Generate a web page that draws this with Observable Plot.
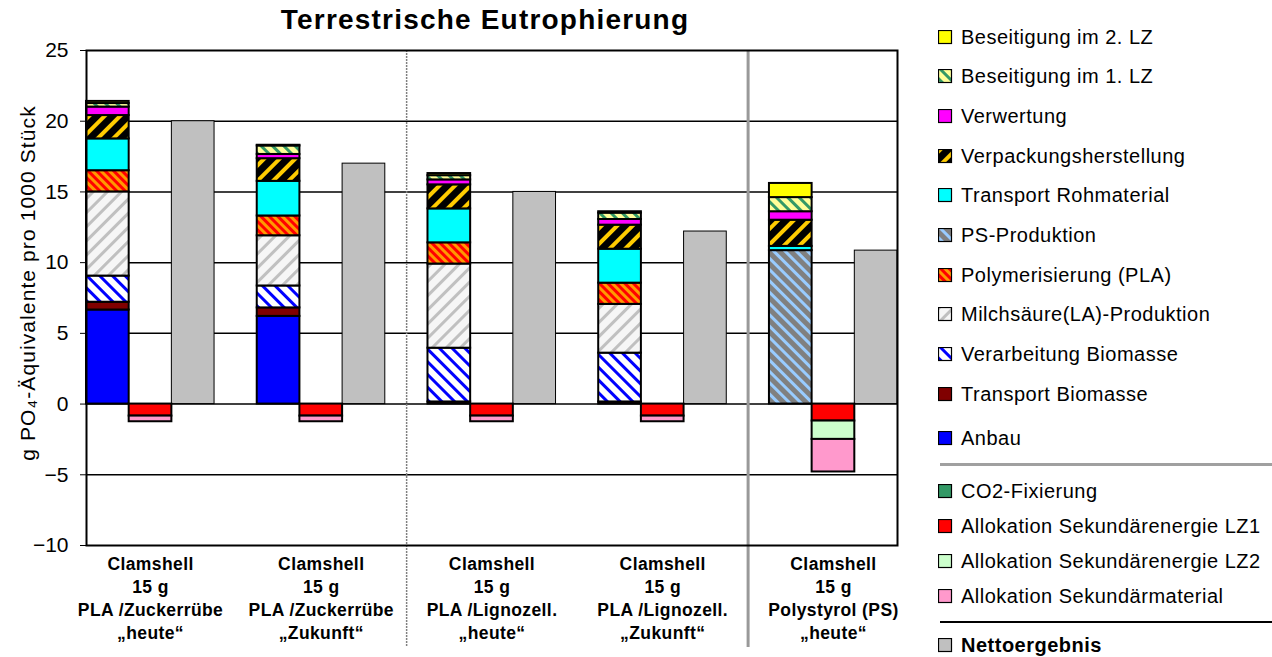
<!DOCTYPE html>
<html>
<head>
<meta charset="utf-8">
<script src="https://cdn.jsdelivr.net/npm/d3@7"></script>
<script src="https://cdn.jsdelivr.net/npm/@observablehq/plot@0.6"></script>
<style>
  body { margin: 0; background: #fff; font-family: Arial, "Liberation Sans", sans-serif; }
  #wrap { position: relative; width: 1272px; height: 657px; overflow: hidden; }
  #chart { position: absolute; left: 0; top: 0; }
  #title { position: absolute; left: 0; width: 970px; top: 4px; text-align: center;
           font-size: 28px; font-weight: bold; letter-spacing: 1.2px; color: #000; }
  #legend { position: absolute; left: 938px; top: 0; width: 334px; height: 657px; font-size: 20px; letter-spacing: 0.5px; }
  .row { position: absolute; left: 0; display: flex; align-items: center; height: 24px; white-space: nowrap; }
  .row svg { margin-right: 8px; flex: none; }
  .sep { position: absolute; left: 2px; width: 332px; }
</style>
</head>
<body>
<svg width="0" height="0" style="position:absolute">
  <defs>
    <pattern id="pB1" width="8" height="8" patternUnits="userSpaceOnUse" patternTransform="rotate(-45)">
      <rect width="8" height="8" fill="#FFFF99"/><rect width="3" height="8" fill="#339966"/>
    </pattern>
    <pattern id="pVerp" width="11" height="11" patternUnits="userSpaceOnUse" patternTransform="rotate(45)">
      <rect width="11" height="11" fill="#000000"/><rect width="4" height="11" fill="#FFCC00"/>
    </pattern>
    <pattern id="pPS" width="8" height="8" patternUnits="userSpaceOnUse" patternTransform="rotate(-45)">
      <rect width="8" height="8" fill="#808080"/><rect width="3" height="8" fill="#99CCFF"/>
    </pattern>
    <pattern id="pPoly" width="6" height="6" patternUnits="userSpaceOnUse" patternTransform="rotate(-45)">
      <rect width="6" height="6" fill="#FF9900"/><rect width="3" height="6" fill="#FF0000"/>
    </pattern>
    <pattern id="pMS" width="10" height="10" patternUnits="userSpaceOnUse" patternTransform="rotate(45)">
      <rect width="10" height="10" fill="#F6F6F6"/><rect width="3" height="10" fill="#C0C0C0"/>
    </pattern>
    <pattern id="pVB" width="9" height="9" patternUnits="userSpaceOnUse" patternTransform="rotate(-45)">
      <rect width="9" height="9" fill="#FFFFFF"/><rect width="3" height="9" fill="#0000FF"/>
    </pattern>
  </defs>
</svg>
<div id="wrap">
  <div id="chart"></div>
  <div id="title">Terrestrische Eutrophierung</div>
  <div id="legend"></div>
</div>
<script>
// ---------- data ----------
const scenarios = ["PLA Zuckerrübe heute", "PLA Zuckerrübe Zukunft", "PLA Lignozell. heute", "PLA Lignozell. Zukunft", "Polystyrol heute"];
const xLabels = [
  "Clamshell\n15 g\nPLA /Zuckerrübe\n„heute“",
  "Clamshell\n15 g\nPLA /Zuckerrübe\n„Zukunft“",
  "Clamshell\n15 g\nPLA /Lignozell.\n„heute“",
  "Clamshell\n15 g\nPLA /Lignozell.\n„Zukunft“",
  "Clamshell\n15 g\nPolystyrol (PS)\n„heute“"
];
const yTicks = [-10, -5, 0, 5, 10, 15, 20, 25];

// positive contributions (stack order, bottom to top)
const anbau              = [6.65, 6.2, 0, 0, 0];
const transportBiomasse  = [0.55, 0.6, 0.15, 0.15, 0];
const verarbeitungBiom   = [1.85, 1.55, 3.8, 3.45, 0];
const milchsaeure        = [5.95, 3.55, 5.95, 3.45, 0];
const polymerisierung    = [1.5, 1.4, 1.5, 1.5, 0];
const psProduktion       = [0, 0, 0, 0, 10.85];
const transportRohmat    = [2.25, 2.45, 2.4, 2.4, 0.3];
const verpackung         = [1.65, 1.6, 1.7, 1.7, 1.85];
const verwertung         = [0.6, 0.3, 0.35, 0.4, 0.6];
const beseitigung1       = [0.25, 0.6, 0.3, 0.45, 1.0];
const beseitigung2       = [0.15, 0.05, 0.15, 0.1, 1.0];

// credits (negative)
const co2Fixierung       = [0, 0, 0, 0, 0];
const allokEnergieLZ1    = [-0.85, -0.85, -0.85, -0.85, -1.2];
const allokEnergieLZ2    = [0, 0, 0, 0, -1.3];
const allokMaterial      = [-0.4, -0.4, -0.4, -0.4, -2.3];

// net result
const netto              = [20.0, 17.0, 15.0, 12.2, 10.85];

// ---------- series definitions ----------
const posSeries = [
  {name: "Anbau", values: anbau, fill: "#0000FF"},
  {name: "Transport Biomasse", values: transportBiomasse, fill: "#800000"},
  {name: "Verarbeitung Biomasse", values: verarbeitungBiom, fill: "url(#pVB)"},
  {name: "Milchsäure(LA)-Produktion", values: milchsaeure, fill: "url(#pMS)"},
  {name: "Polymerisierung (PLA)", values: polymerisierung, fill: "url(#pPoly)"},
  {name: "PS-Produktion", values: psProduktion, fill: "url(#pPS)"},
  {name: "Transport Rohmaterial", values: transportRohmat, fill: "#00FFFF"},
  {name: "Verpackungsherstellung", values: verpackung, fill: "url(#pVerp)"},
  {name: "Verwertung", values: verwertung, fill: "#FF00FF"},
  {name: "Beseitigung im 1. LZ", values: beseitigung1, fill: "url(#pB1)"},
  {name: "Beseitigung im 2. LZ", values: beseitigung2, fill: "#FFFF00"}
];
const negSeries = [
  {name: "CO2-Fixierung", values: co2Fixierung, fill: "#339966"},
  {name: "Allokation Sekundärenergie LZ1", values: allokEnergieLZ1, fill: "#FF0000"},
  {name: "Allokation Sekundärenergie LZ2", values: allokEnergieLZ2, fill: "#CCFFCC"},
  {name: "Allokation Sekundärmaterial", values: allokMaterial, fill: "#FF99CC"}
];
const netSeries = {name: "Nettoergebnis", values: netto, fill: "#C0C0C0"};

// slots: per scenario 3 bars + a gap
const slotKeys = [];
scenarios.forEach((s, i) => {
  slotKeys.push(i + "a", i + "b", i + "c");
  if (i < scenarios.length - 1) slotKeys.push(i + "gap");
});

const stackRows = [];
scenarios.forEach((s, i) => {
  posSeries.forEach(ser => { if (ser.values[i] !== 0) stackRows.push({slot: i + "a", series: ser.name, value: ser.values[i]}); });
  negSeries.forEach(ser => { if (ser.values[i] !== 0) stackRows.push({slot: i + "b", series: ser.name, value: ser.values[i]}); });
});
const netRows = scenarios.map((s, i) => ({slot: i + "c", value: netto[i]}));
const labelRows = scenarios.map((s, i) => ({slot: i + "b", label: xLabels[i]}));

const allSeries = [...posSeries, ...negSeries];

const chart = Plot.plot({
  width: 930,
  height: 657,
  marginLeft: 86,
  marginRight: 33,
  marginTop: 50,
  marginBottom: 112,
  style: {fontSize: "21px", fontFamily: "Arial, 'Liberation Sans', sans-serif", color: "#000", background: "transparent"},
  x: {type: "band", domain: slotKeys, padding: 0, round: false, axis: null},
  y: {domain: [-10, 25], ticks: yTicks, tickSize: 6, tickPadding: 12, label: null},
  color: {type: "ordinal", domain: allSeries.map(d => d.name), range: allSeries.map(d => d.fill)},
  marks: [
    Plot.ruleY(yTicks.filter(v => v > -10 && v < 25), {stroke: "#000", strokeWidth: 1.5}),
    Plot.ruleX(["1gap"], {stroke: "#808080", strokeWidth: 1.5, strokeDasharray: "2,1", insetBottom: -102}),
    Plot.ruleX(["3gap"], {stroke: "#999999", strokeWidth: 3, insetBottom: -102}),
    Plot.barY(netRows, {x: "slot", y: "value", fill: netSeries.fill, stroke: "#000", strokeWidth: 1, insetLeft: 0, insetRight: 0}),
    Plot.barY(stackRows, Plot.stackY({x: "slot", y: "value", fill: "series", stroke: "#000", strokeWidth: 2, insetLeft: 0, insetRight: 0})),
    Plot.frame({stroke: "#000", strokeWidth: 2}),
    Plot.text(labelRows, {x: "slot", frameAnchor: "bottom", lineAnchor: "top", dy: 8, text: "label",
      fontSize: 17.5, fontWeight: "bold", lineHeight: 1.32}),
    Plot.text(["g PO₄-Äquivalente pro 1000 Stück"], {frameAnchor: "left", rotate: -90, dx: -58, dy: -15,
      text: d => d, fontSize: 21, textAnchor: "middle"})
  ]
});
chart.querySelectorAll("text").forEach(t => {
  if (t.textContent.startsWith("g PO")) t.style.letterSpacing = "1.1px";
  if (t.textContent.startsWith("Clamshell")) t.style.letterSpacing = "0.4px";
});
document.getElementById("chart").appendChild(chart);

// ---------- legend ----------
const legend = document.getElementById("legend");
function addRow(ser, top, bold) {
  const row = document.createElement("div");
  row.className = "row";
  row.style.top = (top - 12) + "px";
  if (bold) row.style.fontWeight = "bold";
  row.innerHTML = `<svg width="15" height="15"><rect x="0.5" y="0.5" width="13" height="13" fill="${ser.fill}" stroke="#000" stroke-width="1.2"/></svg><span>${ser.name}</span>`;
  legend.appendChild(row);
}
function addSep(top, color, w) {
  const s = document.createElement("div");
  s.className = "sep";
  s.style.top = top + "px";
  s.style.borderTop = `${w}px solid ${color}`;
  legend.appendChild(s);
}
const legendPos = [...posSeries].reverse();
legendPos.forEach((ser, i) => addRow(ser, 37 + i * 39.7 + (i === legendPos.length - 1 ? 4 : 0)));
addSep(463, "#a0a0a0", 3);
negSeries.forEach((ser, i) => addRow(ser, 491 + i * 35));
addSep(621, "#000", 2);
addRow(netSeries, 645, true);
</script>
</body>
</html>
